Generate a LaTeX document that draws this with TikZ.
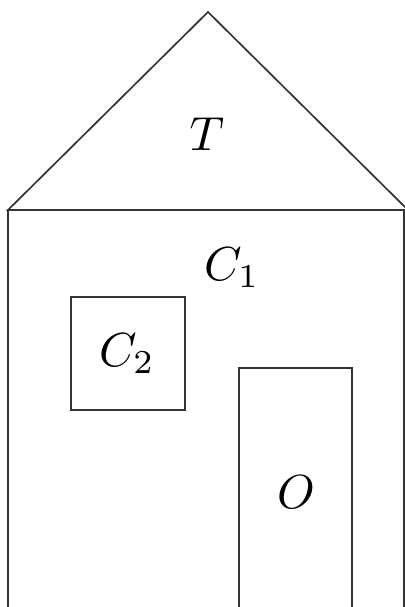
\documentclass[tikz,border=0pt]{standalone}
\begin{document}
\begin{tikzpicture}[x=0.025cm,y=-0.025cm,line width=1.2pt,draw=black!80,
  lbl/.style={scale=3.4,inner sep=0pt}]
\useasboundingbox (0,0) rectangle (405,607);
\clip (0,0) rectangle (405,607);
\draw (8,210) -- (208,12) -- (408,210) -- cycle;
\draw (8,630) -- (8,210) -- (404,210) -- (404,630);
\draw (71,297) rectangle (185,410);
\draw (239,630) -- (239,368) -- (352,368) -- (352,630);
\node[lbl] (t) at (207,134) {$T$};
\node[lbl] (c1) at (232,268) {$C_1$};
\node[lbl] (c2) at (127,354) {$C_2$};
\node[lbl] (o) at (296,492) {$O$};
\end{tikzpicture}
\end{document}
